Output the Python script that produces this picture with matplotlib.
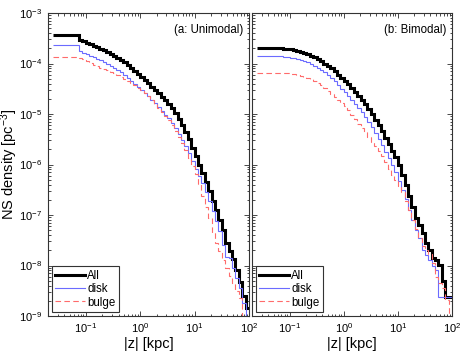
import numpy as np
import matplotlib
matplotlib.use("Agg")
import matplotlib.pyplot as plt
from matplotlib.ticker import LogLocator, NullFormatter
from matplotlib.lines import Line2D

plt.rcParams['font.family'] = ['Liberation Sans', 'DejaVu Sans']
plt.rcParams['mathtext.default'] = 'regular'

# bin edges in log10(|z| / kpc): one wide first bin, then 50 log bins
first_edge = -1.6
log_edges = np.linspace(-1.13, 2.0, 51)

# log10 density [pc^-3] per bin
left_all = [-3.43, -3.53, -3.56, -3.59, -3.62, -3.65, -3.68, -3.71, -3.74, -3.77, -3.81,
            -3.85, -3.89, -3.93, -3.98, -4.03, -4.08, -4.14, -4.20, -4.26, -4.32,
            -4.39, -4.46, -4.52, -4.59, -4.66, -4.73, -4.80, -4.88, -4.98, -5.09,
            -5.21, -5.35, -5.50, -5.67, -5.84, -6.00, -6.16, -6.34, -6.52, -6.72,
            -6.90, -7.10, -7.30, -7.55, -7.72, -7.88, -8.08, -8.32, -8.60, -8.85]
left_disk = [-3.63, -3.75, -3.79, -3.82, -3.85, -3.88, -3.91, -3.94, -3.98, -4.01, -4.05,
             -4.09, -4.13, -4.17, -4.22, -4.28, -4.34, -4.40, -4.46, -4.52, -4.58,
             -4.65, -4.72, -4.79, -4.87, -4.94, -5.01, -5.08, -5.17, -5.28, -5.39,
             -5.51, -5.64, -5.78, -5.93, -6.08, -6.22, -6.37, -6.55, -6.72, -6.92,
             -7.12, -7.32, -7.60, -7.83, -7.85, -8.05, -8.25, -8.45, -8.75, -9.10]
left_bulge = [-3.88, -3.90, -3.92, -3.96, -3.99, -4.02, -4.05, -4.08, -4.10, -4.13, -4.16,
              -4.19, -4.23, -4.27, -4.31, -4.35, -4.39, -4.43, -4.48, -4.53, -4.58,
              -4.65, -4.72, -4.80, -4.88, -4.96, -5.04, -5.12, -5.22, -5.33, -5.45,
              -5.58, -5.72, -5.87, -6.02, -6.18, -6.38, -6.62, -6.85, -7.05, -7.35,
              -7.55, -7.72, -7.90, -8.05, -8.20, -8.35, -8.50, -8.65, -9.10, -9.30]

right_all = [-3.70, -3.71, -3.71, -3.72, -3.73, -3.75, -3.77, -3.79, -3.82, -3.85, -3.88,
             -3.92, -3.96, -4.00, -4.05, -4.09, -4.15, -4.22, -4.29, -4.35, -4.41,
             -4.48, -4.56, -4.64, -4.72, -4.81, -4.90, -5.00, -5.11, -5.22, -5.34,
             -5.47, -5.60, -5.73, -5.86, -6.00, -6.20, -6.40, -6.62, -6.85, -7.05,
             -7.20, -7.36, -7.55, -7.70, -7.85, -7.90, -7.99, -8.30, -8.62, -8.62]
right_disk = [-3.86, -3.87, -3.88, -3.89, -3.90, -3.92, -3.94, -3.96, -3.98, -4.01, -4.04,
              -4.08, -4.12, -4.17, -4.22, -4.28, -4.35, -4.42, -4.50, -4.57, -4.64,
              -4.72, -4.80, -4.88, -4.96, -5.05, -5.15, -5.26, -5.37, -5.49, -5.62,
              -5.75, -5.87, -6.00, -6.15, -6.32, -6.50, -6.68, -6.90, -7.10, -7.30,
              -7.45, -7.69, -7.80, -7.89, -8.00, -8.09, -8.62, -8.62, -8.62, -8.62]
right_bulge = [-4.18, -4.18, -4.19, -4.20, -4.21, -4.22, -4.24, -4.26, -4.28, -4.31, -4.34,
               -4.38, -4.43, -4.48, -4.54, -4.60, -4.66, -4.72, -4.78, -4.85, -4.93,
               -5.01, -5.10, -5.19, -5.28, -5.36, -5.45, -5.55, -5.64, -5.73, -5.84,
               -5.96, -6.08, -6.20, -6.30, -6.42, -6.55, -6.72, -6.90, -7.10, -7.28,
               -7.45, -7.62, -7.70, -7.78, -7.95, -8.22, -8.35, -8.45, -8.68, -9.50]

panel_titles = ['(a: Unimodal)', '(b: Bimodal)']
series_labels = ['All', 'disk', 'bulge']

edges = 10.0 ** np.concatenate([[first_edge], log_edges])

fig = plt.figure(figsize=(4.63, 3.53), dpi=100)
W, H = 463, 353
ax_l = fig.add_axes([48 / W, (H - 316) / H, (249 - 48) / W, (316 - 13) / H])
ax_r = fig.add_axes([252 / W, (H - 316) / H, (452 - 252) / W, (316 - 13) / H])

styles = [dict(color='black', lw=2.2, ls='-'),
          dict(color='#6b6bff', lw=0.8, ls='-'),
          dict(color='#ff6b6b', lw=0.8, ls=(0, (5, 3)))]

for ax, data, title in [(ax_l, [left_all, left_disk, left_bulge], panel_titles[0]),
                        (ax_r, [right_all, right_disk, right_bulge], panel_titles[1])]:
    ax.set_xscale('log')
    ax.set_yscale('log')
    for vals, st, lab in zip(data, styles, series_labels):
        ax.stairs(10.0 ** np.array(vals), edges, baseline=None, label=lab, **st)
    ax.set_xlim(0.02, 100)
    ax.set_ylim(1e-9, 1e-3)
    ax.xaxis.set_major_locator(LogLocator(base=10, numticks=10))
    ax.yaxis.set_major_locator(LogLocator(base=10, numticks=10))
    ax.xaxis.set_minor_locator(LogLocator(base=10, subs=np.arange(2, 10), numticks=20))
    ax.yaxis.set_minor_locator(LogLocator(base=10, subs=np.arange(2, 10), numticks=20))
    ax.xaxis.set_minor_formatter(NullFormatter())
    ax.yaxis.set_minor_formatter(NullFormatter())
    ax.tick_params(which='both', direction='in', top=True, right=True, labelsize=8,
                   width=0.5, colors='black')
    ax.tick_params(which='major', length=3.5, pad=4)
    ax.tick_params(which='minor', length=1.8)
    for sp in ax.spines.values():
        sp.set_linewidth(0.8)
        sp.set_color('#333333')
    ax.set_xlabel('|z| [kpc]', fontsize=10.5, labelpad=1)
    ax.text(0.97, 0.945, title, transform=ax.transAxes, ha='right', va='center', fontsize=8.3)
    lh = [Line2D([], [], **st) for st in styles]
    leg = ax.legend(lh, series_labels, loc='lower left', fontsize=8.3, frameon=True,
                    fancybox=False, framealpha=1, edgecolor='#333333', handlelength=2.6,
                    handletextpad=0.15, borderpad=0.3, labelspacing=0.12,
                    borderaxespad=0.35)
    leg.get_frame().set_linewidth(0.8)

ax_r.tick_params(labelleft=False)
ax_l.set_ylabel('NS density [pc$^{-3}$]', fontsize=10.5)
ax_l.yaxis.set_label_coords(-0.14, 0.5)

fig.savefig('out.png', dpi=100)
